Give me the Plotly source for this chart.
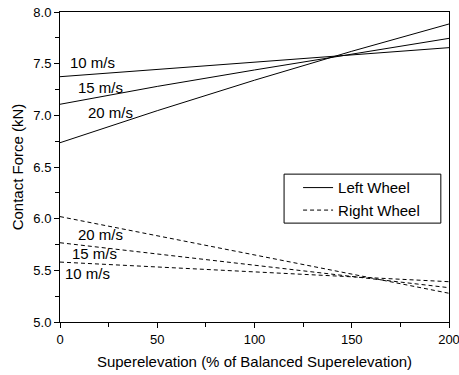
import plotly.graph_objects as go

# Left wheel (solid) read at 0, 50, 100, 150, 200 %
superelevation = [0, 50, 100, 150, 200]
left_10 = [7.374, 7.445, 7.514, 7.585, 7.655]
left_15 = [7.107, 7.280, 7.439, 7.595, 7.745]
left_20 = [6.735, 7.045, 7.340, 7.620, 7.884]

# Right wheel (dashed) read at the two ends
superelevation_ends = [0, 200]
right_10 = [5.580, 5.390]
right_15 = [5.767, 5.332]
right_20 = [6.020, 5.278]

speed_labels = ["10 m/s", "15 m/s", "20 m/s"]
left_label_pos = [(16.7, 7.51), (20.9, 7.27), (26.0, 7.03)]
right_label_pos = [(14.2, 5.47), (17.8, 5.66), (20.9, 5.85)]

FONT = "Liberation Sans, Arial, sans-serif"
fig = go.Figure()

for i, ys in enumerate([left_10, left_15, left_20]):
    fig.add_trace(go.Scatter(x=superelevation, y=ys, mode="lines",
                             line=dict(color="black", width=1),
                             name="Left Wheel", showlegend=(i == 0)))
for i, ys in enumerate([right_10, right_15, right_20]):
    fig.add_trace(go.Scatter(x=superelevation_ends, y=ys, mode="lines",
                             line=dict(color="black", width=1, dash="4px,3px"),
                             name="Right Wheel", showlegend=(i == 0)))

for lab, (x, y) in zip(speed_labels, left_label_pos):
    fig.add_annotation(x=x, y=y, text=lab, showarrow=False,
                       font=dict(size=15, color="black", family=FONT))
for lab, (x, y) in zip(speed_labels, right_label_pos):
    fig.add_annotation(x=x, y=y, text=lab, showarrow=False,
                       font=dict(size=15, color="black", family=FONT))

# legend frame
fig.add_shape(type="rect", xref="paper", yref="paper",
              x0=0.576, x1=0.979, y0=0.319, y1=0.477,
              line=dict(color="black", width=1), fillcolor="white", layer="above")

fig.update_layout(
    width=459, height=375,
    margin=dict(l=60, r=10, t=12, b=53),
    paper_bgcolor="white", plot_bgcolor="white",
    font=dict(family=FONT, color="black", size=13),
    legend=dict(x=0.612, y=0.486, xanchor="left", yanchor="top",
                borderwidth=0, bgcolor="rgba(0,0,0,0)",
                font=dict(size=15), tracegroupgap=0),
    xaxis=dict(range=[0, 200], tickvals=[0, 50, 100, 150, 200],
               automargin=False, ticklabeloverflow="allow",
               ticks="outside", ticklen=5, tickwidth=1, tickcolor="black",
               minor=dict(dtick=25, ticks="outside", ticklen=4, tickcolor="black"),
               showline=True, linecolor="black", linewidth=1, mirror=True,
               showgrid=False, zeroline=False,
               title=dict(text="Superelevation (% of Balanced Superelevation)",
                          font=dict(size=15), standoff=10),
               tickfont=dict(size=13)),
    yaxis=dict(range=[5.0, 8.0], tickvals=[5.0, 5.5, 6.0, 6.5, 7.0, 7.5, 8.0],
               tickformat=".1f", automargin=False, ticklabeloverflow="allow",
               ticks="outside", ticklen=5, tickwidth=1, tickcolor="black",
               minor=dict(dtick=0.25, ticks="outside", ticklen=4, tickcolor="black"),
               showline=True, linecolor="black", linewidth=1, mirror=True,
               showgrid=False, zeroline=False,
               title=dict(text="Contact Force (kN)", font=dict(size=15), standoff=6),
               tickfont=dict(size=13)),
)

fig.write_html("out.html", config={"displayModeBar": False},
               post_script="document.body.style.margin='0';document.body.style.overflow='hidden';")
